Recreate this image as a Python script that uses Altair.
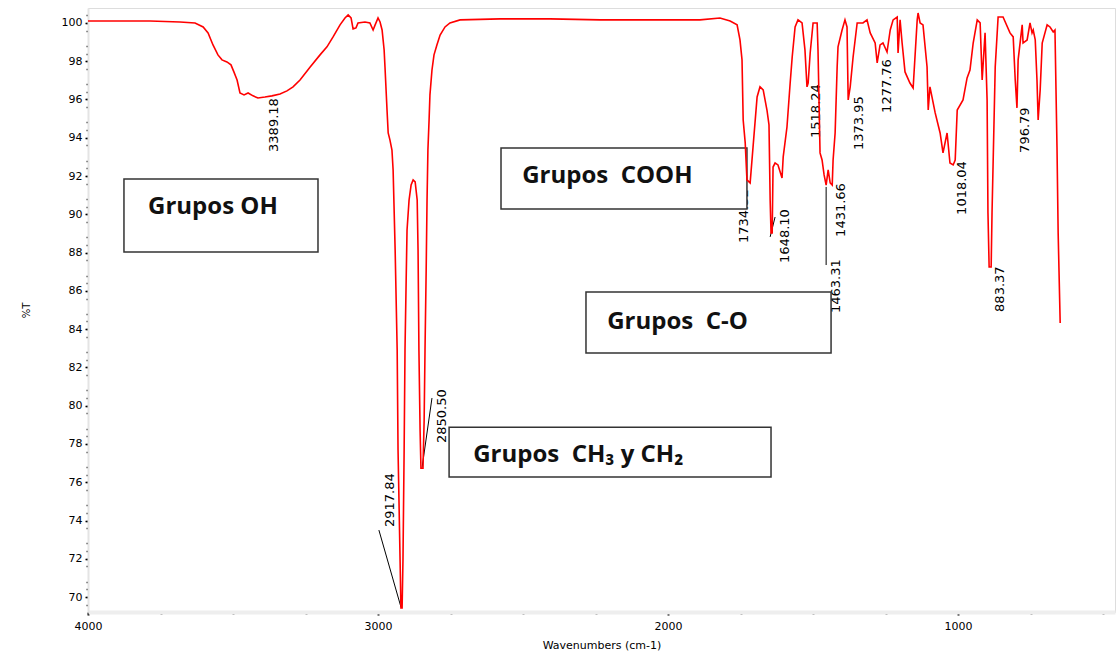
import altair as alt
import pandas as pd

# ---- spectrum (wavenumber cm-1, %T) ----
wavenumber = [4000, 3890, 3786, 3683, 3631, 3603, 3586, 3569, 3552, 3538, 3521, 3507, 3497, 3486,
              3476, 3462, 3448, 3431, 3414, 3390, 3366, 3338, 3314, 3293, 3269, 3234, 3200, 3176,
              3155, 3131, 3114, 3103, 3093, 3086, 3076, 3069, 3045, 3028, 3017, 3010, 3000, 2993,
              2986, 2979, 2976, 2969, 2965, 2959, 2952, 2948, 2941, 2934, 2931, 2924, 2921, 2917,
              2914, 2910, 2907, 2903, 2900, 2893, 2886, 2879, 2872, 2865, 2862, 2859, 2855, 2852,
              2845, 2841, 2838, 2834, 2831, 2828, 2824, 2821, 2814, 2807, 2797, 2786, 2769, 2752,
              2717, 2579, 2407, 2234, 2062, 1890, 1821, 1786, 1762, 1752, 1745, 1741, 1734, 1728,
              1717, 1707, 1693, 1683, 1672, 1659, 1652, 1648, 1645, 1641, 1638, 1631, 1621, 1607,
              1603, 1590, 1579, 1572, 1562, 1552, 1538, 1528, 1521, 1517, 1510, 1500, 1486, 1483,
              1476, 1469, 1462, 1455, 1448, 1441, 1434, 1431, 1424, 1417, 1414, 1400, 1390, 1383,
              1379, 1372, 1362, 1348, 1328, 1314, 1303, 1286, 1279, 1269, 1259, 1245, 1234, 1224,
              1210, 1207, 1200, 1193, 1183, 1166, 1155, 1141, 1138, 1131, 1121, 1107, 1103, 1097,
              1079, 1062, 1052, 1038, 1028, 1017, 1010, 1003, 983, 969, 959, 948, 934, 924, 917,
              907, 900, 897, 893, 886, 883, 872, 862, 845, 821, 810, 803, 797, 793, 779, 776, 762,
              752, 745, 741, 734, 728, 724, 717, 710, 693, 683, 672, 666, 659, 655, 648]
transmittance = [100.10, 100.10, 100.10, 100.05, 100.0, 99.79, 99.48, 98.85, 98.33, 98.07, 97.96,
                 97.81, 97.44, 97.02, 96.34, 96.24, 96.34, 96.19, 96.08, 96.13, 96.19, 96.29, 96.45,
                 96.66, 97.02, 97.70, 98.33, 98.75, 99.27, 99.90, 100.26, 100.42, 100.26, 99.69,
                 99.74, 100.0, 100.05, 100.0, 99.63, 99.90, 100.26, 100.05, 99.63, 98.59, 97.70,
                 95.45, 94.25, 93.89, 93.36, 92.32, 88.14, 82.91, 77.69, 71.94, 69.43, 69.43,
                 71.94, 77.69, 82.91, 86.57, 89.18, 90.75, 91.53, 91.80, 91.69, 90.75, 88.14,
                 82.91, 78.73, 76.74, 76.74, 79.25, 82.91, 87.09, 90.75, 93.36, 94.93, 96.24,
                 97.54, 98.33, 98.85, 99.37, 99.79, 100.0, 100.16, 100.21, 100.21, 100.16, 100.16,
                 100.16, 100.26, 100.10, 99.90, 99.11, 98.07, 94.93, 93.73, 91.80, 91.64, 93.52,
                 96.13, 96.66, 96.50, 95.45, 94.67, 90.75, 89.03, 89.03, 92.47, 92.68, 92.58,
                 91.90, 93.00, 94.56, 96.86, 98.22, 99.79, 100.16, 100.0, 98.59, 96.66, 96.86,
                 98.43, 100.0, 100.0, 98.59, 93.21, 92.84, 92.06, 91.53, 92.32, 91.64, 91.53,
                 92.84, 94.25, 97.70, 98.75, 99.63, 100.16, 99.79, 95.98, 96.66, 98.22, 100.0,
                 100.0, 100.16, 99.48, 98.95, 97.91, 98.85, 98.95, 98.48, 99.63, 100.16, 100.31,
                 98.43, 100.16, 98.95, 97.44, 96.86, 96.60, 100.16, 100.52, 100.0, 99.90, 97.70,
                 95.45, 96.66, 95.30, 94.25, 93.21, 94.25, 92.68, 92.58, 92.84, 95.45, 95.98,
                 97.13, 97.54, 98.95, 100.16, 100.0, 97.02, 99.48, 95.98, 90.07, 87.25, 87.25,
                 90.07, 97.70, 100.31, 100.31, 99.48, 99.27, 97.02, 95.56, 98.07, 99.90, 98.95,
                 99.11, 100.0, 99.48, 99.63, 99.11, 97.02, 94.93, 96.50, 98.95, 99.90, 99.79,
                 99.53, 99.63, 93.52, 89.03, 84.32]

# ---- axis ticks ----
x_major = [4000, 3000, 2000, 1000]
x_minor = [3750, 3500, 3250, 2750, 2500, 2250, 1750, 1500, 1250, 750, 500]
y_major = [70, 72, 74, 76, 78, 80, 82, 84, 86, 88, 90, 92, 94, 96, 98, 100]
y_minor = [round(69.6 + 0.4 * i, 1) for i in range(78) if (i + 1) % 5 != 0]

# ---- peak labels ----
peak_text = ["3389.18", "2917.84", "2850.50", "1734.52", "1648.10", "1518.24", "1463.31",
             "1431.66", "1373.95", "1277.76", "1018.04", "883.37", "796.79"]
peak_x = [3359, 2959, 2779, 1738, 1597, 1490, 1421, 1403, 1341, 1245, 986, 855, 769]
peak_y = [93.26, 73.66, 78.05, 88.50, 87.46, 93.99, 84.84, 88.82, 93.36, 95.30, 89.97, 84.90, 93.21]

# ---- leader lines ----
lead_x1 = [2997, 2814, 1648, 1455]
lead_y1 = [73.50, 80.40, 88.82, 91.43]
lead_x2 = [2921, 2848, 1631, 1455]
lead_y2 = [69.48, 76.79, 89.86, 87.35]

# ---- annotation boxes ----
box_text = ["Grupos OH", "Grupos\u00a0 COOH", "Grupos\u00a0 C-O", "Grupos\u00a0 CH\u2083 y CH\u2082"]
box_x1 = [3876, 2576, 2283, 2755]
box_x2 = [3207, 1728, 1438, 1645]
box_y1 = [91.85, 93.47, 85.94, 78.88]
box_y2 = [88.03, 90.28, 82.75, 76.27]
box_tx = [3793, 2503, 2210, 2672]
box_ty = [90.38, 92.00, 84.37, 77.42]

spec = pd.DataFrame({"wn": wavenumber, "t": transmittance, "order": range(len(wavenumber))})
peaks = pd.DataFrame({"label": peak_text, "wn": peak_x, "t": peak_y})
leads = pd.DataFrame({"x1": lead_x1, "y1": lead_y1, "x2": lead_x2, "y2": lead_y2})
boxes = pd.DataFrame({"label": box_text, "x1": box_x1, "x2": box_x2, "y1": box_y1, "y2": box_y2,
                      "tx": box_tx, "ty": box_ty})

xscale = alt.Scale(domain=[459, 4000], reverse=True, nice=False, zero=False)
yscale = alt.Scale(domain=[69.22, 100.78], nice=False, zero=False)

xaxis = alt.Axis(values=x_major, title="Wavenumbers (cm-1)", grid=False, orient="bottom",
                 labelFont="DejaVu Sans", labelFontSize=11, labelColor="#000", labelPadding=5,
                 titleFont="DejaVu Sans", titleFontSize=11, titleFontWeight="normal", titleColor="#000",
                 titlePadding=8, domainColor="#eeeeee", domainWidth=4, tickColor="#000",
                 tickSize=3, tickWidth=2, format="d", labelFlush=False)
yaxis = alt.Axis(values=y_major, title="%T", grid=False, orient="left",
                 labelFont="DejaVu Sans", labelFontSize=11, labelColor="#000", labelPadding=3,
                 titleFont="DejaVu Sans", titleFontSize=10, titleFontWeight="normal", titleColor="#000",
                 titlePadding=30, domainColor="#e4e4e4", domainWidth=2, tickColor="#000",
                 tickSize=3, tickWidth=1.5, format="d")
xminor_axis = alt.Axis(values=x_minor, title="", grid=False, orient="bottom", labels=False,
                       domain=False, tickColor="#222", tickSize=2, tickWidth=2)
yminor_axis = alt.Axis(values=y_minor, title="", grid=False, orient="left", labels=False,
                       domain=False, tickColor="#333", tickSize=2, tickWidth=1.5)

line = alt.Chart(spec).mark_line(color="#ff0000", strokeWidth=1.6, interpolate="linear").encode(
    x=alt.X("wn:Q", scale=xscale, axis=xaxis),
    y=alt.Y("t:Q", scale=yscale, axis=yaxis),
    order="order:Q",
)

labels = alt.Chart(peaks).mark_text(angle=270, align="left", baseline="middle",
                                    font="DejaVu Sans", fontSize=13, color="#000").encode(
    x=alt.X("wn:Q", scale=xscale, axis=xminor_axis),
    y=alt.Y("t:Q", scale=yscale, axis=yminor_axis), text="label:N")

leaders = alt.Chart(leads).mark_rule(color="#000", strokeWidth=1).encode(
    x=alt.X("x1:Q", scale=xscale, axis=None), y=alt.Y("y1:Q", scale=yscale, axis=None),
    x2="x2:Q", y2="y2:Q")

rects = alt.Chart(boxes).mark_rect(fill="#ffffff", stroke="#333333", strokeWidth=1.5).encode(
    x=alt.X("x1:Q", scale=xscale, axis=None), x2="x2:Q",
    y=alt.Y("y1:Q", scale=yscale, axis=None), y2="y2:Q")

btext = alt.Chart(boxes).mark_text(align="left", baseline="middle", font="Open Sans",
                                   fontWeight="bold", fontSize=24, color="#111").encode(
    x=alt.X("tx:Q", scale=xscale, axis=None), y=alt.Y("ty:Q", scale=yscale, axis=None),
    text="label:N")

chart = alt.layer(labels, leaders, rects, line, btext).resolve_axis(
    x="independent", y="independent"
).properties(
    width=1027, height=604,
    autosize=alt.AutoSizeParams(type="none"),
    padding={"left": 88, "top": 8, "right": 3, "bottom": 41},
).configure_view(stroke=None).configure(background="#ffffff")

chart.save("out.html", embed_options={"renderer": "svg", "actions": False})
